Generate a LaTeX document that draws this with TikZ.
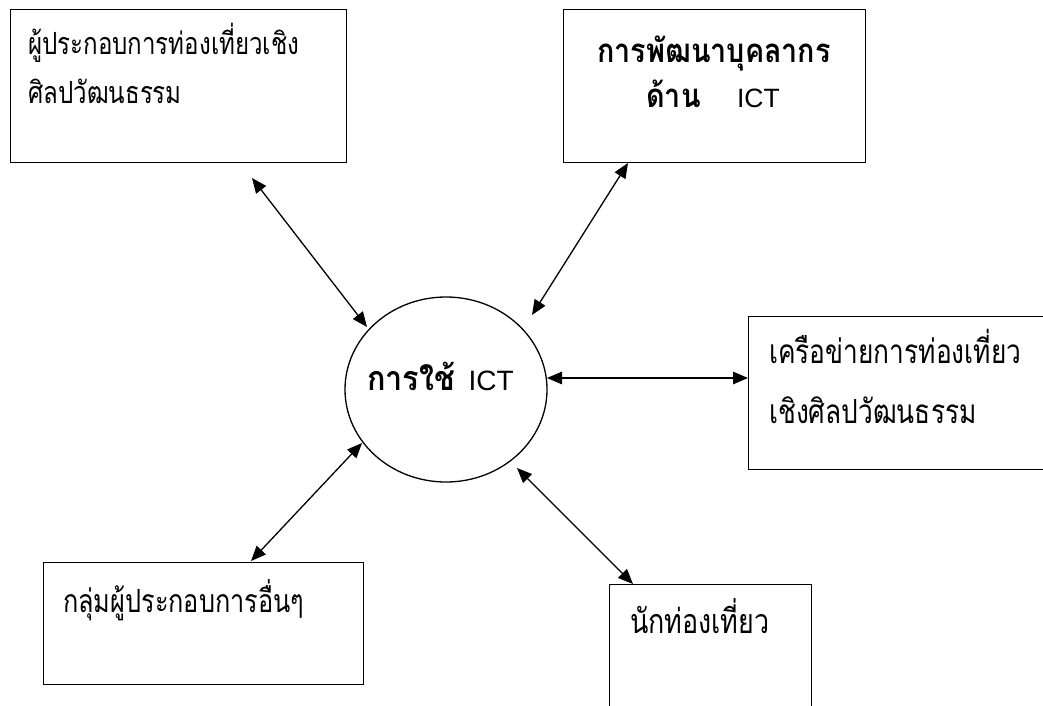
\documentclass[tikz,border=0pt]{standalone}
\usepackage{fontspec}
\newfontfamily\thai[Script=Thai,FakeStretch=0.79]{Loma}
\newfontfamily\thaib[Script=Thai,FakeStretch=0.90]{Loma}
\newfontfamily\thaitr[Script=Thai,FakeStretch=0.87]{Loma}
\newfontfamily\lat{Liberation Sans}
\usetikzlibrary{arrows.meta,shapes.geometric}
\newcommand{\fsz}[1]{\fontsize{#1}{36}\selectfont}
\begin{document}
\begin{tikzpicture}[x=1pt,y=-1pt,
  box/.style={draw,line width=1.4pt,rectangle,anchor=north west,inner sep=0pt},
  txt/.style={anchor=base west,inner sep=0pt,font=\thai\fsz{32}},
  btxt/.style={anchor=base,inner sep=0pt,font=\thaitr\bfseries\fsz{33}},
  link/.style={line width=1.3pt,{Triangle[length=15pt,width=12.5pt]}-{Triangle[length=15pt,width=12.5pt]}}]
\clip (0,0) rectangle (1043,706);
% boxes
\node[box,minimum width=336pt,minimum height=153pt] (tl) at (10,9) {};
\node[box,minimum width=302pt,minimum height=153pt] (tr) at (563,9) {};
\node[box,minimum width=320pt,minimum height=153pt] (rb) at (748,316) {};
\node[box,minimum width=320pt,minimum height=122pt] (bl) at (43,562) {};
\node[box,minimum width=202pt,minimum height=140pt] (bb) at (609,584) {};
\node[draw,line width=1.3pt,ellipse,minimum width=202pt,minimum height=185pt,inner sep=0pt] (c) at (446,389.5) {};
% texts
\node[txt,font=\thai\fsz{30.5}] (tla) at (28,55) {ผู้ประกอบการท่องเที่ยวเชิง};
\node[txt,font=\thai\fsz{30.5}] (tlb) at (28,103) {ศิลปวัฒนธรรม};
\node[btxt] (tra) at (714,63) {การพัฒนาบุคลากร};
\node[btxt] (trb) at (713,108) {ด้าน\hspace{1.1em}{\lat\mdseries\fsz{26.5}ICT}};
\node[txt,font=\thai\fsz{33.3}] (rba) at (769,363) {เครือข่ายการท่องเที่ยว};
\node[txt,font=\thai\fsz{33.3}] (rbb) at (769,423) {เชิงศิลปวัฒนธรรม};
\node[txt] (bla) at (63,612) {กลุ่มผู้ประกอบการอื่นๆ};
\node[txt,font=\thai\fsz{34}] (bba) at (630,633) {นักท่องเที่ยว};
\node[txt,font=\thaib\bfseries\fsz{34}] (ct) at (367,390) {การใช้\hspace{0.4em}{\lat\mdseries\fsz{28}ICT}};
% arrow end points
\coordinate (a1) at (252,178); \coordinate (a1c) at (367,327);
\coordinate (a2) at (628,163); \coordinate (a2c) at (532,315);
\coordinate (a3c) at (547,378); \coordinate (a3) at (748,378);
\coordinate (a4c) at (362,443); \coordinate (a4) at (251,561);
\coordinate (a5c) at (517,468); \coordinate (a5) at (633,584);
\draw[link] (a1) -- (a1c);
\draw[link] (a2) -- (a2c);
\draw[link] (a3c) -- (a3);
\draw[link] (a4c) -- (a4);
\draw[link] (a5c) -- (a5);
\end{tikzpicture}
\end{document}
